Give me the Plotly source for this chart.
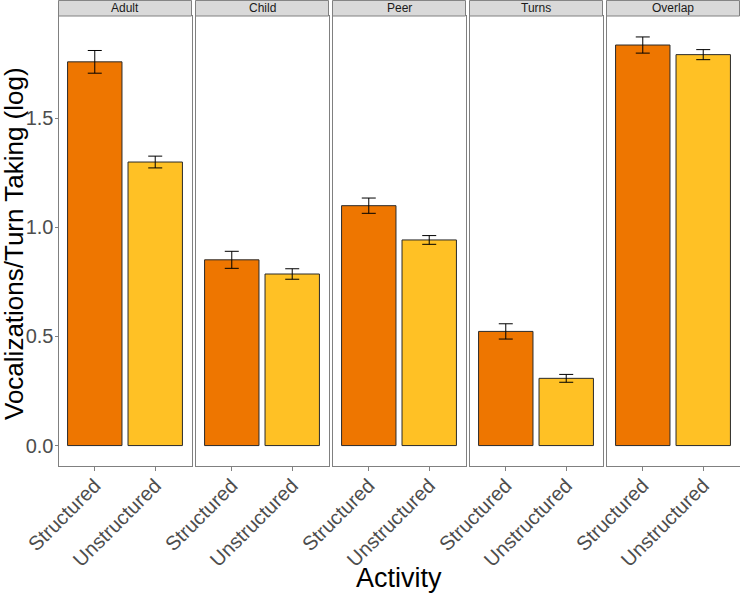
import plotly.graph_objects as go

facets = ["Adult", "Child", "Peer", "Turns", "Overlap"]
activities = ["Structured", "Unstructured"]
means = {
    "Adult": [1.758, 1.299],
    "Child": [0.851, 0.786],
    "Peer": [1.099, 0.942],
    "Turns": [0.523, 0.308],
    "Overlap": [1.835, 1.791],
}
errors = {
    "Adult": [0.052, 0.027],
    "Child": [0.039, 0.024],
    "Peer": [0.035, 0.020],
    "Turns": [0.035, 0.018],
    "Overlap": [0.037, 0.023],
}
bar_colors = ["#EE7600", "#FFC125"]
y_ticks = [0.0, 0.5, 1.0, 1.5]
y_tick_text = ["0.0", "0.5", "1.0", "1.5"]

W, H = 740, 594
ML, MR, MT, MB = 58, 0, 0, 128
PW = W - ML - MR
PH = H - MT - MB
panel_left = [58.5, 195.5, 332.5, 469.5, 606.5]
panel_w = 133
strip_px = 16
ydom_top = (PH - strip_px) / PH

FONT = "Liberation Sans, Arial, sans-serif"
border = "#808080"

fig = go.Figure()
layout = dict(
    width=W, height=H,
    margin=dict(l=ML, r=MR, t=MT, b=MB),
    paper_bgcolor="white", plot_bgcolor="white",
    showlegend=False,
    font=dict(family=FONT),
    bargap=0.1,
)
shapes = []
annotations = []
for i, f in enumerate(facets):
    suffix = "" if i == 0 else str(i + 1)
    xa = "x" + suffix
    ya = "y" + suffix
    fig.add_trace(go.Bar(
        x=activities, y=means[f], xaxis=xa, yaxis=ya, width=0.9,
        marker=dict(color=bar_colors, line=dict(color="#2a2a2a", width=1)),
        error_y=dict(type="data", array=errors[f], color="black", thickness=1, width=7),
    ))
    x0 = (panel_left[i] - ML) / PW
    x1 = (panel_left[i] + panel_w - ML) / PW
    layout["xaxis" + suffix] = dict(
        domain=[x0, x1], anchor=ya, type="category",
        categoryorder="array", categoryarray=activities,
        range=[-0.6, 1.6], showline=True, mirror=True, linecolor=border, linewidth=1,
        ticks="outside", ticklen=4, tickcolor=border, tickangle=-45,
        ticklabelstandoff=-5,
        tickfont=dict(size=20, color="#4d4d4d", family=FONT),
        showgrid=False, zeroline=False, fixedrange=True,
    )
    layout["yaxis" + suffix] = dict(
        domain=[0, ydom_top], anchor=xa,
        range=[-0.0936, 1.968], showline=True, mirror=True, linecolor=border, linewidth=1,
        tickvals=y_ticks, ticktext=y_tick_text,
        ticks="outside" if i == 0 else "", ticklen=3, tickcolor=border,
        ticklabelstandoff=-3,
        showticklabels=(i == 0),
        tickfont=dict(size=20, color="#4d4d4d", family=FONT),
        showgrid=False, zeroline=False,
    )
    if i > 0:
        layout["yaxis" + suffix]["matches"] = "y"
    shapes.append(dict(
        type="rect", xref="paper", yref="paper",
        x0=x0, x1=x1, y0=ydom_top, y1=0.999,
        fillcolor="#D9D9D9", line=dict(color=border, width=1), layer="above",
    ))
    annotations.append(dict(
        text=f, xref="paper", yref="paper", x=(x0 + x1) / 2,
        y=(ydom_top + 1) / 2, showarrow=False, xanchor="center", yanchor="middle",
        font=dict(size=12, color="#1a1a1a", family=FONT),
    ))

annotations.append(dict(
    text="Vocalizations/Turn Taking (log)", xref="paper", yref="paper",
    x=(14 - ML) / PW, y=(PH - 244) / PH, textangle=-90, showarrow=False,
    xanchor="center", yanchor="middle", font=dict(size=26, color="black", family=FONT),
))
annotations.append(dict(
    text="Activity", xref="paper", yref="paper",
    x=(399 - ML) / PW, y=(PH - 578) / PH, showarrow=False,
    xanchor="center", yanchor="middle", font=dict(size=27, color="black", family=FONT),
))
layout["shapes"] = shapes
layout["annotations"] = annotations
fig.update_layout(**layout)
fig.write_html(
    "out.html",
    config={"displayModeBar": False},
    post_script="document.body.style.margin='0';document.body.style.overflow='hidden';",
)
